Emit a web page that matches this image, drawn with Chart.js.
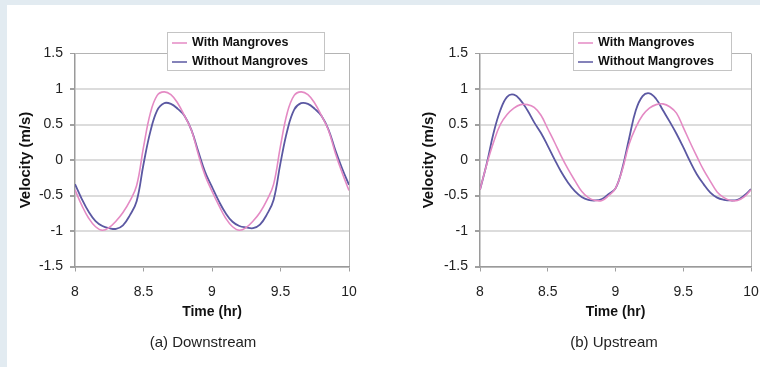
<!DOCTYPE html>
<html>
<head>
<meta charset="utf-8">
<script src="https://cdn.jsdelivr.net/npm/chart.js@4.4.0/dist/chart.umd.min.js"></script>
<style>
    html, body { margin: 0; padding: 0; }
    body { width: 760px; height: 367px; background: #e2ebf1; position: relative; overflow: hidden; }
    .panel { position: absolute; left: 7px; top: 5px; right: 0; bottom: 0; background: #fff; }
    .box { position: absolute; top: 0; width: 380px; height: 367px; }
</style>
</head>
<body>
<div class="panel"></div>
<div class="box" style="left:0"><canvas id="down" width="380" height="367"></canvas></div>
<div class="box" style="left:380px"><canvas id="up" width="380" height="367"></canvas></div>
<script>
    // time axis (hr)
    const times = [
        8.00, 8.05, 8.10, 8.15, 8.20, 8.25, 8.30, 8.35, 8.40, 8.45,
        8.50, 8.55, 8.60, 8.65, 8.70, 8.75, 8.80, 8.85, 8.90, 8.95,
        9.00, 9.05, 9.10, 9.15, 9.20, 9.25, 9.30, 9.35, 9.40, 9.45,
        9.50, 9.55, 9.60, 9.65, 9.70, 9.75, 9.80, 9.85, 9.90, 9.95,
        10.00
    ];
    const xTicks = [8, 8.5, 9, 9.5, 10];
    const yTicks = [-1.5, -1, -0.5, 0, 0.5, 1, 1.5];
    const seriesNames = ["With Mangroves", "Without Mangroves"];

    // (a) downstream velocity (m/s)
    const downWith = [
        -0.42, -0.64, -0.82, -0.94, -0.99, -0.95, -0.86, -0.74, -0.58, -0.36,
        0.18, 0.66, 0.91, 0.96, 0.92, 0.80, 0.62, 0.42, 0.08, -0.22,
        -0.44, -0.64, -0.82, -0.94, -0.99, -0.95, -0.86, -0.74, -0.57, -0.34,
        0.20, 0.67, 0.91, 0.96, 0.92, 0.80, 0.62, 0.42, 0.10, -0.18,
        -0.43
    ];
    const downWithout = [
        -0.34, -0.55, -0.73, -0.86, -0.93, -0.96, -0.97, -0.92, -0.78, -0.58,
        -0.06, 0.40, 0.70, 0.80, 0.79, 0.72, 0.62, 0.42, 0.12, -0.17,
        -0.38, -0.58, -0.75, -0.87, -0.93, -0.95, -0.96, -0.91, -0.77, -0.56,
        -0.04, 0.42, 0.71, 0.80, 0.79, 0.72, 0.62, 0.43, 0.14, -0.12,
        -0.35
    ];

    // (b) upstream velocity (m/s)
    const upWith = [
        -0.42, -0.06, 0.25, 0.50, 0.64, 0.73, 0.78, 0.78, 0.74, 0.63,
        0.44, 0.25, 0.05, -0.13, -0.29, -0.44, -0.53, -0.57, -0.57, -0.50,
        -0.40, -0.14, 0.22, 0.46, 0.63, 0.73, 0.78, 0.79, 0.75, 0.66,
        0.46, 0.25, 0.05, -0.14, -0.30, -0.45, -0.53, -0.57, -0.57, -0.52,
        -0.42
    ];
    const upWithout = [
        -0.42, -0.05, 0.38, 0.70, 0.89, 0.92, 0.84, 0.70, 0.53, 0.38,
        0.20, 0.01, -0.17, -0.32, -0.44, -0.52, -0.56, -0.57, -0.55, -0.48,
        -0.40, -0.12, 0.30, 0.70, 0.90, 0.94, 0.86, 0.70, 0.54, 0.37,
        0.18, -0.02, -0.20, -0.34, -0.46, -0.53, -0.56, -0.57, -0.56, -0.50,
        -0.41
    ];

    const pink = "#e48ac4";
    const blue = "#5b58a2";
    const fontFam = "'Liberation Sans', Arial, sans-serif";

    function points(vals) {
        return times.map((t, i) => ({ x: t, y: vals[i] }));
    }

    // legend box + caption drawn over the chart
    const panelText = {
        id: "panelText",
        afterDraw(chart, args, opts) {
            const ctx = chart.ctx;
            const b = opts.box;
            ctx.save();
            ctx.fillStyle = "#fff";
            ctx.fillRect(b.x, b.y, b.w, b.h);
            ctx.strokeStyle = "#c4c4c4";
            ctx.lineWidth = 1;
            ctx.strokeRect(b.x + 0.5, b.y + 0.5, b.w - 1, b.h - 1);
            ctx.font = "bold 12.5px " + fontFam;
            ctx.textBaseline = "middle";
            chart.data.datasets.forEach((ds, i) => {
                const y = b.y + 11 + i * 19;
                ctx.strokeStyle = ds.borderColor;
                ctx.lineWidth = 1.5;
                ctx.beginPath();
                ctx.moveTo(b.x + 5, y);
                ctx.lineTo(b.x + 20, y);
                ctx.stroke();
                ctx.fillStyle = "#111";
                ctx.fillText(ds.label, b.x + 25, y);
            });
            ctx.font = "15px " + fontFam;
            ctx.textAlign = "center";
            ctx.fillStyle = "#222";
            ctx.fillText(opts.caption, opts.captionX, opts.captionY);
            ctx.restore();
        }
    };

    function makeChart(id, withVals, withoutVals, cfg) {
        return new Chart(document.getElementById(id), {
            type: "line",
            data: {
                datasets: [{
                    label: seriesNames[0],
                    data: points(withVals),
                    borderColor: pink,
                    borderWidth: 1.6,
                    pointRadius: 0,
                    tension: 0.4
                }, {
                    label: seriesNames[1],
                    data: points(withoutVals),
                    borderColor: blue,
                    borderWidth: 1.8,
                    pointRadius: 0,
                    tension: 0.4
                }]
            },
            options: {
                responsive: false,
                animation: false,
                layout: { padding: { top: 53.5, right: cfg.padRight, bottom: 40.5, left: 0 } },
                plugins: {
                    legend: { display: false },
                    tooltip: { enabled: false },
                    panelText: cfg.text
                },
                scales: {
                    x: {
                        type: "linear",
                        min: 8,
                        max: 10,
                        afterBuildTicks: s => { s.ticks = xTicks.map(v => ({ value: v })); },
                        afterFit: s => { s.height = 60; s.paddingLeft = 0; s.paddingRight = 0; },
                        ticks: {
                            color: "#222", padding: 12, maxRotation: 0,
                            font: { family: fontFam, size: 14 },
                            callback: v => String(v)
                        },
                        grid: {
                            color: c => c.tick && c.tick.value === 10 ? "#b4b4b4" : "rgba(0,0,0,0)",
                            lineWidth: 1,
                            tickColor: "#a0a0a0",
                            tickLength: 5
                        },
                        border: { color: "#9a9a9a", width: 1.5 },
                        title: {
                            display: true,
                            text: "Time (hr)",
                            color: "#111",
                            font: { family: fontFam, size: 14, weight: "bold" },
                            padding: { top: 0, bottom: 6 }
                        }
                    },
                    y: {
                        min: -1.5,
                        max: 1.5,
                        afterBuildTicks: s => { s.ticks = yTicks.map(v => ({ value: v })); },
                        afterFit: s => { s.width = cfg.yWidth; },
                        ticks: {
                            color: "#222", padding: 7,
                            font: { family: fontFam, size: 14 },
                            callback: v => String(v)
                        },
                        grid: {
                            color: c => c.tick && c.tick.value === 1.5 ? "#b4b4b4" : "#dcdcdc",
                            lineWidth: c => c.tick && c.tick.value === 1.5 ? 1 : 2,
                            tickColor: "#a0a0a0",
                            tickLength: 5
                        },
                        border: { color: "#9a9a9a", width: 1.5 },
                        title: {
                            display: true,
                            text: "Velocity (m/s)",
                            color: "#111",
                            font: { family: fontFam, size: 15, weight: "bold" },
                            padding: { top: cfg.yTitlePad, bottom: 0 }
                        }
                    }
                }
            },
            plugins: [panelText]
        });
    }

    makeChart("down", downWith, downWithout, {
        padRight: 31,
        yWidth: 75,
        yTitlePad: 17,
        text: { box: { x: 167, y: 32, w: 158, h: 39 }, caption: "(a) Downstream", captionX: 203, captionY: 343 }
    });
    makeChart("up", upWith, upWithout, {
        padRight: 9,
        yWidth: 100,
        yTitlePad: 40,
        text: { box: { x: 193, y: 32, w: 159, h: 39 }, caption: "(b) Upstream", captionX: 234, captionY: 343 }
    });
</script>
</body>
</html>
